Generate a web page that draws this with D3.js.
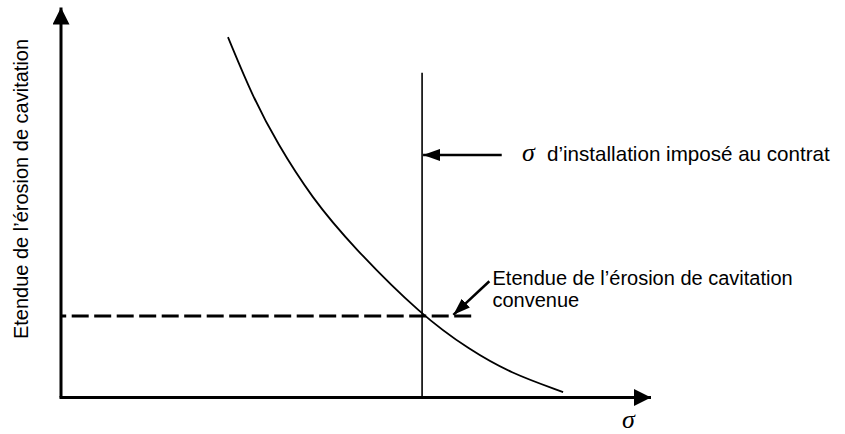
<!DOCTYPE html>
<html>
<head>
<meta charset="utf-8">
<script src="https://cdn.jsdelivr.net/npm/d3@7"></script>
<style>
  html, body { margin: 0; padding: 0; background: #fff; }
  svg { display: block; }
</style>
</head>
<body>
<svg id="chart" width="845" height="434"></svg>
<script>
// ---- Data (abstract units) ----
const curveX = [2.83, 3.25, 3.66, 4.25, 4.95, 6.12, 6.93, 7.61, 8.51];
const curveY = [9.24, 7.71, 6.53, 5.12, 3.86, 2.09, 1.22, 0.63, 0.14];
const sigmaInstall = 6.12;      // imposed installation sigma
const sigmaLineTop = 8.33;      // top of the vertical line
const agreedErosion = 2.09;     // agreed cavitation erosion level
const agreedLineEnd = 6.96;     // end of the dashed line
const labels = {
  yAxis: "Etendue de l\u2019érosion de cavitation",
  xAxis: "\u03c3",
  sigmaNote: "d\u2019installation imposé au contrat",
  erosionNote: ["Etendue de l\u2019érosion de cavitation", "convenue"]
};

// ---- Scales ----
const svg = d3.select("#chart");
const x = d3.scaleLinear().domain([0, 10]).range([61, 651]);
const y = d3.scaleLinear().domain([0, 10]).range([397.5, 7.5]);

const defs = svg.append("defs");
function marker(id, len, half) {
  defs.append("marker")
    .attr("id", id)
    .attr("viewBox", `0 ${-half} ${len} ${2 * half}`)
    .attr("refX", len).attr("refY", 0)
    .attr("markerUnits", "userSpaceOnUse")
    .attr("markerWidth", len).attr("markerHeight", 2 * half)
    .attr("orient", "auto")
    .append("path")
    .attr("d", `M0,${-half}L${len},0L0,${half}Z`)
    .attr("fill", "#000");
}
marker("axisHead", 17, 8.5);
marker("noteHead", 17, 6);

// ---- Axes ----
svg.append("line")
  .attr("x1", x(0)).attr("y1", y(0))
  .attr("x2", x(0)).attr("y2", y(10))
  .attr("stroke", "#000").attr("stroke-width", 3)
  .attr("marker-end", "url(#axisHead)");
svg.append("line")
  .attr("x1", x(0) - 1.5).attr("y1", y(0))
  .attr("x2", x(10)).attr("y2", y(0))
  .attr("stroke", "#000").attr("stroke-width", 3)
  .attr("marker-end", "url(#axisHead)");

// ---- Curve ----
const pts = curveX.map((d, i) => [d, curveY[i]]);
svg.append("path")
  .datum(pts)
  .attr("d", d3.line().x(d => x(d[0])).y(d => y(d[1])).curve(d3.curveBasis))
  .attr("fill", "none").attr("stroke", "#000").attr("stroke-width", 1.8);

// ---- Vertical sigma line ----
svg.append("line")
  .attr("x1", x(sigmaInstall)).attr("y1", y(0))
  .attr("x2", x(sigmaInstall)).attr("y2", y(sigmaLineTop))
  .attr("stroke", "#000").attr("stroke-width", 1.6);

// ---- Dashed agreed-erosion line ----
svg.append("line")
  .attr("x1", x(0)).attr("y1", y(agreedErosion))
  .attr("x2", x(agreedLineEnd)).attr("y2", y(agreedErosion))
  .attr("stroke", "#000").attr("stroke-width", 3)
  .attr("stroke-dasharray", "17,5.5").attr("stroke-dashoffset", 11.8);

// ---- Annotation arrows ----
svg.append("line")
  .attr("x1", x(7.47)).attr("y1", y(6.22))
  .attr("x2", x(sigmaInstall) + 1).attr("y2", y(6.22))
  .attr("stroke", "#000").attr("stroke-width", 2.5)
  .attr("marker-end", "url(#noteHead)");
svg.append("line")
  .attr("x1", x(7.26)).attr("y1", y(2.98))
  .attr("x2", x(6.65)).attr("y2", y(2.12))
  .attr("stroke", "#000").attr("stroke-width", 2.5)
  .attr("marker-end", "url(#noteHead)");

// ---- Texts ----
const sans = "'Liberation Sans', Arial, sans-serif";
const serif = "'Liberation Serif', 'Times New Roman', serif";
const fs = 20;

svg.append("text")
  .attr("transform", `translate(28,189) rotate(-90)`)
  .attr("text-anchor", "middle")
  .attr("font-family", sans).attr("font-size", fs)
  .text(labels.yAxis);

svg.append("text")
  .attr("x", 622).attr("y", 428)
  .attr("font-family", serif).attr("font-style", "italic").attr("font-size", 26)
  .text(labels.xAxis);

svg.append("text")
  .attr("x", 522).attr("y", 161)
  .attr("font-family", serif).attr("font-style", "italic").attr("font-size", 26)
  .text(labels.xAxis);
svg.append("text")
  .attr("x", 547).attr("y", 161)
  .attr("font-family", sans).attr("font-size", 20.6)
  .text(labels.sigmaNote);

svg.append("text")
  .attr("font-family", sans).attr("font-size", fs)
  .selectAll("tspan").data(labels.erosionNote).join("tspan")
  .attr("x", 492.5).attr("y", (d, i) => 285 + i * 22)
  .text(d => d);
</script>
</body>
</html>
